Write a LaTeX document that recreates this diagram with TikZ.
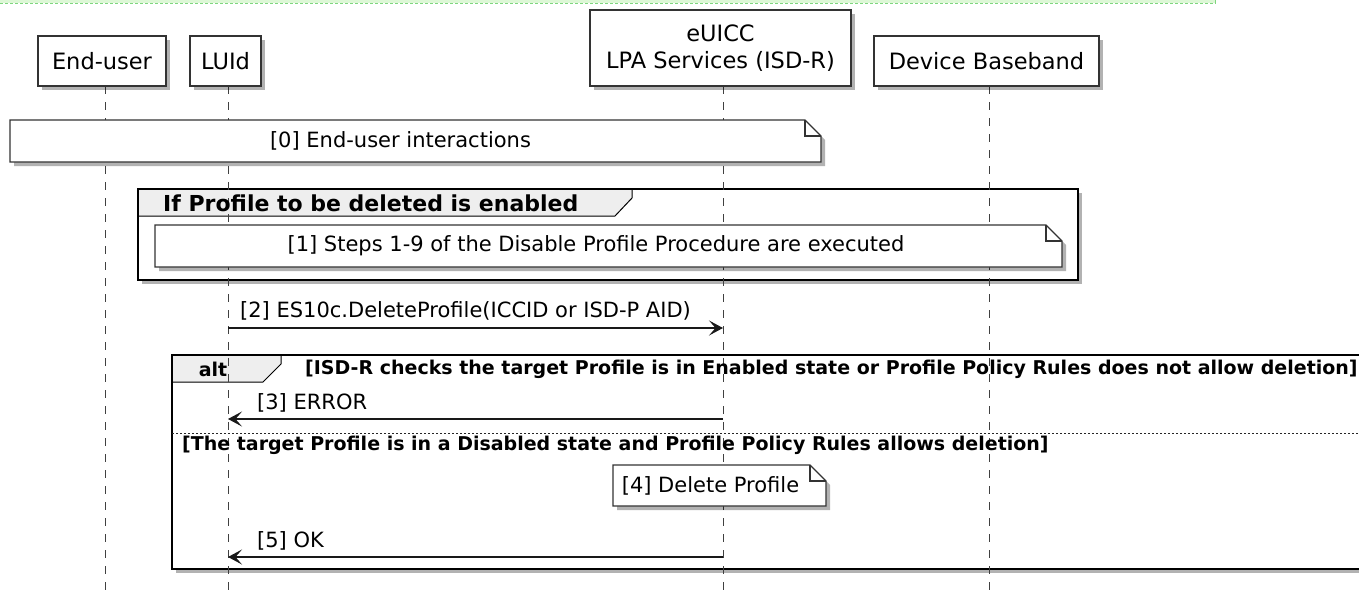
\documentclass[tikz,border=0pt]{standalone}
\usepackage{fontspec}
\setmainfont{DejaVu Sans}
\usetikzlibrary{shadows,arrows.meta}
\definecolor{bandfill}{HTML}{DDF7D6}
\definecolor{bandline}{HTML}{7FD67F}
\definecolor{tabgray}{HTML}{EEEEEE}
\newcommand\ptfnt{\fontsize{22.5}{27}\selectfont}
\newcommand\msgfnt{\fontsize{21}{25}\selectfont}
\newcommand\grpfnt{\fontsize{22}{26}\selectfont\bfseries}
\newcommand\altfnt{\fontsize{19}{23}\selectfont\bfseries}
\newcommand\dognote[4]{%
  \draw[notebox] (#1,#2) -- (#3-16,#2) -- (#3,#2+16) -- (#3,#4) -- (#1,#4) -- cycle;
  \draw[notefold] (#3-16,#2) -- (#3-16,#2+16) -- (#3,#2+16);}
\tikzset{
  shad/.style={drop shadow={shadow xshift=4pt,shadow yshift=-4pt,fill=black,opacity=.3}},
  part/.style={draw=black!80, line width=1.5pt, fill=white, inner sep=0pt, align=center, font=\ptfnt, shad},
  lifeline/.style={draw=black!75, line width=1pt, dash pattern=on 8pt off 8pt},
  notebox/.style={draw=black!80, line width=1.1pt, fill=white, line join=miter, shad},
  notefold/.style={draw=black!80, line width=1.1pt},
  txt/.style={inner sep=0pt, font=\msgfnt},
  grptitle/.style={inner sep=0pt, font=\grpfnt},
  alttxt/.style={inner sep=0pt, font=\altfnt},
  grp/.style={draw=black, line width=2.8pt, fill=white, shad},
  grptab/.style={draw=black, line width=1pt, fill=tabgray},
  msg/.style={draw=black!90, line width=1.1pt, -{Stealth[length=14pt,width=15pt,inset=6.5pt]}},
  sep/.style={draw=black!85, line width=1pt, dash pattern=on 2pt off 2pt},
}
\begin{document}
\begin{tikzpicture}[x=1pt,y=-1pt]
\useasboundingbox (0,0) rectangle (1359,597);
\clip (0,0) rectangle (1359,597);
% top band
\fill[bandfill] (-5,-5) rectangle (1215,3);
\draw[bandline, line width=1pt, dash pattern=on 3pt off 2pt] (-5,3) -- (1215,3) -- (1215,-5);
% group boxes
\draw[grp] (138,189) rectangle (1078,280);
\draw[grptab] (138,189) -- (632,189) -- (632,198) -- (615,216) -- (138,216) -- cycle;
\draw[draw=black, line width=2.8pt] (138,189) rectangle (1078,280);
\draw[grp] (172,355) rectangle (1420,569);
\draw[grptab] (172,355) -- (281,355) -- (281,364) -- (263,382) -- (172,382) -- cycle;
\draw[draw=black, line width=2.8pt] (172,355) rectangle (1420,569);
\draw[sep] (172,433) -- (1420,433);
% lifelines
\draw[lifeline] (105,86) -- (105,600);
\draw[lifeline] (228,86) -- (228,600);
\draw[lifeline] (723,86) -- (723,600);
\draw[lifeline] (989,86) -- (989,600);
% participants
\node[part, minimum width=128pt, minimum height=50pt] (enduser) at (102,61) {End-user};
\node[part, minimum width=71pt, minimum height=50pt] (luid) at (225.5,61) {LUId};
\node[part, minimum width=261pt, minimum height=76pt] (euicc) at (720.5,48) {eUICC\\LPA Services (ISD-R)};
\node[part, minimum width=225pt, minimum height=50pt] (baseband) at (986.5,61) {Device Baseband};
% note 0
\dognote{10}{120}{821}{162}
\node[txt] (n0) at (400.5,141) {[0] End-user interactions};
% group title
\node[grptitle, anchor=west] (g1) at (163,203) {If Profile to be deleted is enabled};
% note 1
\dognote{155}{225}{1062}{267}
\node[txt] (n1) at (596,246) {[1] Steps 1-9 of the Disable Profile Procedure are executed};
% message 2
\coordinate (l2) at (228,328);
\coordinate (e2) at (723,328);
\draw[msg] (l2) -- (e2);
\node[txt, anchor=west] (m2) at (240,311) {[2] ES10c.DeleteProfile(ICCID or ISD-P AID)};
% alt
\node[alttxt] (alt) at (213,369) {alt};
\node[alttxt, anchor=west] (c1) at (305,369) {[ISD-R checks the target Profile is in Enabled state or Profile Policy Rules does not allow deletion]};
\coordinate (e3) at (723,419);
\coordinate (l3) at (228,419);
\draw[msg] (e3) -- (l3);
\node[txt, anchor=west] (m3) at (257,403) {[3] ERROR};
\node[alttxt, anchor=west] (c2) at (182,445) {[The target Profile is in a Disabled state and Profile Policy Rules allows deletion]};
% note 4
\dognote{613}{465}{826}{506}
\node[txt] (n4) at (710.5,486) {[4] Delete Profile};
% message 5
\coordinate (e5) at (723,557);
\coordinate (l5) at (228,557);
\draw[msg] (e5) -- (l5);
\node[txt, anchor=west] (m5) at (257,541) {[5] OK};
\end{tikzpicture}
\end{document}
